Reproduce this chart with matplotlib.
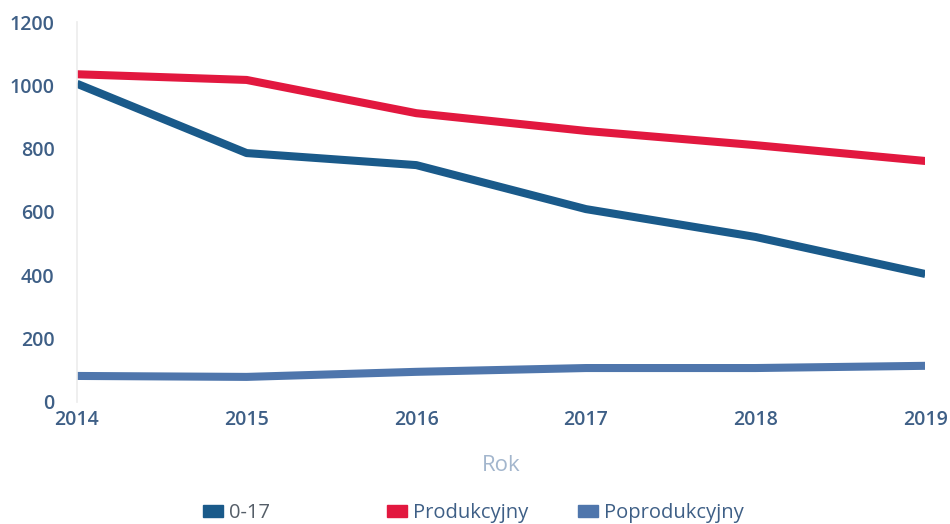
import numpy as np
import matplotlib
matplotlib.use("Agg")
import matplotlib.pyplot as plt
from matplotlib.patches import Patch

years = [2014, 2015, 2016, 2017, 2018, 2019]
s_0_17 = [1005, 786, 748, 609, 521, 404]
s_prod = [1035, 1017, 912, 856, 811, 761]
s_poprod = [82, 79, 95, 107, 107, 114]
labels = ["0-17", "Produkcyjny", "Poprodukcyjny"]
colors = ["#1a5a8a", "#e2183f", "#4f76ac"]
yticks = [0, 200, 400, 600, 800, 1000, 1200]

plt.rcParams["font.family"] = ["Open Sans", "DejaVu Sans"]
tick_c = "#3e5f86"

fig = plt.figure(figsize=(9.5, 5.24), dpi=100, facecolor="white")
ax = fig.add_axes([0.081, 0.233, 0.893, 0.725])

for vals, c in zip([s_0_17, s_prod, s_poprod], colors):
    ax.plot(years, vals, color=c, lw=5.8, solid_joinstyle="round", solid_capstyle="butt")

ax.set_xlim(years[0], years[-1])
ax.set_ylim(0, 1200)
ax.set_xticks(years)
ax.set_yticks(yticks)
ax.tick_params(axis="both", length=0, colors=tick_c, labelsize=14)
ax.tick_params(axis="y", pad=16)
ax.tick_params(axis="x", pad=6)
for lab in ax.get_xticklabels() + ax.get_yticklabels():
    lab.set_fontweight("semibold")
for k in ["top", "right", "bottom"]:
    ax.spines[k].set_visible(False)
ax.spines["left"].set_color("#ececec")
ax.spines["left"].set_linewidth(1.2)

ax.set_xlabel("Rok", color="#a3b6cd", fontsize=16, labelpad=18)

leg_x = [0.2137, 0.407, 0.608]
leg_tc = ["#555e68", tick_c, tick_c]
for lab, c, x, tc in zip(labels, colors, leg_x, leg_tc):
    fig.legend(handles=[Patch(color=c, label=lab)], loc="center left",
               bbox_to_anchor=(x, 0.021), frameon=False, handlelength=1.0,
               handleheight=0.5, handletextpad=0.3, borderaxespad=0,
               borderpad=0, labelcolor=tc, fontsize=14.5)

fig.savefig("out.png", dpi=100)
